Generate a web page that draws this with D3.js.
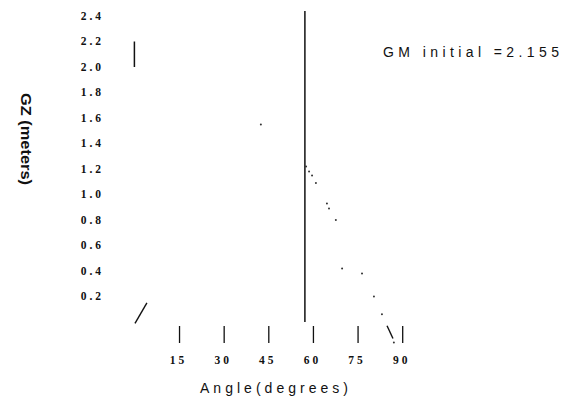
<!DOCTYPE html>
<html>
<head>
<meta charset="utf-8">
<script src="https://cdn.jsdelivr.net/npm/d3@7"></script>
<style>
  body { margin: 0; background: #fff; }
  svg { display: block; }
</style>
</head>
<body>
<div id="svg-container"></div>
<script>
// GZ curve (righting arm): angle in degrees, GZ in meters
const angleTicks = [15, 30, 45, 60, 75, 90]
const gzTicks = [0.2, 0.4, 0.6, 0.8, 1.0, 1.2, 1.4, 1.6, 1.8, 2.0, 2.2, 2.4]
const curveDots = [
  [42.5, 1.55], [57.7, 1.22], [58.7, 1.18], [59.7, 1.15], [61.0, 1.09],
  [64.7, 0.93], [65.4, 0.89], [67.7, 0.8], [69.8, 0.42], [76.5, 0.38],
  [80.5, 0.2], [83.2, 0.06], [87.2, -0.16],
]
const curveStrokes = [
  [[0.2, -0.01], [4.2, 0.15]],
  [[84.9, -0.03], [86.9, -0.13]],
]
const radianAngle = 57.3
const gmLine = [[radianAngle, 0], [radianAngle, 2.44]]
const gmMarker = [[0, 2.0], [0, 2.2]]
const gmLabel = 'GM initial =2.155'

const svgWidth = 563
const svgHeight = 408
const ink = '#111'

const svg = d3
  .select('#svg-container')
  .append('svg')
  .attr('width', svgWidth)
  .attr('height', svgHeight)

const xScale = d3.scaleLinear().domain([0, 90]).range([134.4, 402.2])
const yScale = d3.scaleLinear().domain([0, 2.4]).range([322, 16])

const line = d3
  .line()
  .x(d => xScale(d[0]))
  .y(d => yScale(d[1]))

const styleTickText = g =>
  g
    .selectAll('text')
    .style('font-family', '"Liberation Serif", serif')
    .style('font-weight', 700)
    .style('font-size', '11.5px')
    .style('letter-spacing', '3px')
    .attr('fill', ink)

// y-axis labels only, no ticks or domain
svg
  .append('g')
  .attr('transform', 'translate(104, 0)')
  .call(d3.axisLeft(yScale).tickValues(gzTicks).tickSize(0).tickPadding(0).tickFormat(d3.format('.1f')))
  .call(g => g.select('.domain').remove())
  .call(styleTickText)
  .call(g => g.selectAll('text').attr('dy', '0.3em'))

// x-axis: short ticks hanging below zero, labels underneath
svg
  .append('g')
  .attr('transform', 'translate(0, 326)')
  .call(d3.axisBottom(xScale).tickValues(angleTicks).tickSize(17).tickPadding(13))
  .call(g => g.select('.domain').remove())
  .call(g => g.selectAll('.tick line').attr('stroke', ink).attr('stroke-width', 1.3))
  .call(styleTickText)
  .call(g => g.selectAll('text').attr('dx', '-1'))

// vertical line at one radian and the GM marker at zero
svg
  .append('path')
  .attr('d', line(gmLine))
  .attr('stroke', ink)
  .attr('stroke-width', 1.5)
  .attr('fill', 'none')

svg
  .append('path')
  .attr('d', line(gmMarker))
  .attr('stroke', ink)
  .attr('stroke-width', 1.5)
  .attr('fill', 'none')

// what survives of the curve in the scan
svg
  .append('g')
  .selectAll('path')
  .data(curveStrokes)
  .join('path')
  .attr('d', d => line(d))
  .attr('stroke', ink)
  .attr('stroke-width', 1.4)
  .attr('fill', 'none')

svg
  .append('g')
  .selectAll('circle')
  .data(curveDots)
  .join('circle')
  .attr('cx', d => xScale(d[0]))
  .attr('cy', d => yScale(d[1]))
  .attr('r', 1)
  .attr('fill', '#333')

// titles
svg
  .append('text')
  .attr('x', 383)
  .attr('y', 57)
  .attr('textLength', 176)
  .attr('lengthAdjust', 'spacing')
  .style('font-family', '"Liberation Sans", Arial, sans-serif')
  .style('font-size', '14px')
  .attr('fill', ink)
  .text(gmLabel)

svg
  .append('text')
  .attr('x', 200)
  .attr('y', 393)
  .attr('textLength', 148)
  .attr('lengthAdjust', 'spacing')
  .style('font-family', '"Liberation Sans", Arial, sans-serif')
  .style('font-size', '14px')
  .attr('fill', ink)
  .text('Angle(degrees)')

svg
  .append('text')
  .attr('transform', 'translate(21, 93) rotate(90)')
  .attr('textLength', 92)
  .attr('lengthAdjust', 'spacingAndGlyphs')
  .style('font-family', '"Liberation Sans", Arial, sans-serif')
  .style('font-weight', 700)
  .style('font-size', '14px')
  .attr('fill', ink)
  .text('GZ (meters)')
</script>
</body>
</html>
